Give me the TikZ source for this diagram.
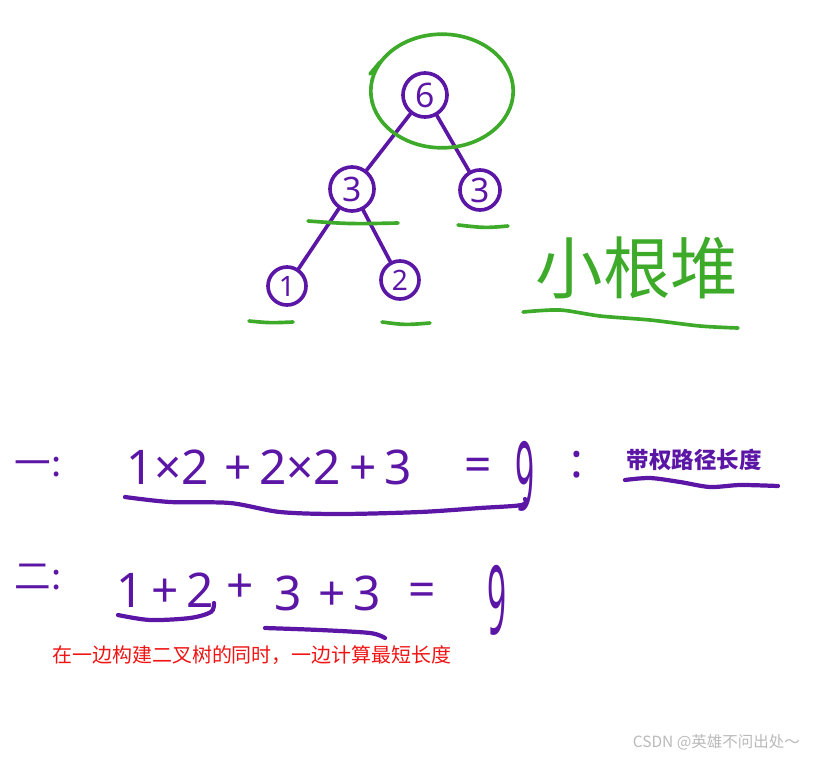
\documentclass[tikz,border=0pt]{standalone}
\usepackage{fontspec}
\setmainfont{Noto Sans}
\newfontfamily\cjkfont{Noto Sans CJK SC}
\usetikzlibrary{positioning}
\definecolor{PenPurple}{RGB}{92, 22, 166}
\definecolor{PenGreen}{RGB}{62, 170, 42}
\definecolor{NoteRed}{RGB}{240, 20, 20}
\definecolor{MarkGray}{RGB}{185, 185, 185}

\begin{document}
\begin{tikzpicture}[x=0.025cm, y=-0.025cm,
      heap/.style={circle, draw=PenPurple, line width=2.6pt, text=PenPurple, inner sep=0pt,
      minimum size=1.1cm, font=\fontsize{24}{24}\selectfont},
      leafheap/.style={heap, minimum size=0.95cm, font=\fontsize{20}{20}\selectfont},
      edge/.style={draw=PenPurple, line width=2.6pt, line cap=round},
      greenmark/.style={draw=PenGreen, line width=2.6pt, line cap=round},
      purplemark/.style={draw=PenPurple, line width=3pt, line cap=round},
      hand/.style={text=PenPurple, inner sep=0pt, font=\fontsize{34}{34}\selectfont},
      cjkhand/.style={text=PenPurple, inner sep=0pt, font=\cjkfont\fontsize{26}{26}\selectfont}
    ]
      \useasboundingbox (0,0) rectangle (813,757);

      % tree
      \node[heap] (root) at (425,95) {6};
      \node[heap] (left) at (352,189) {3};
      \node[heap, minimum size=1.0cm] (right) at (480,190) {3};
      \node[leafheap] (l1) at (287,286) {1};
      \node[leafheap] (l2) at (400,280) {2};

      \draw[edge] (root) -- (left);
      \draw[edge] (root) -- (right);
      \draw[edge] (left) -- (l1);
      \draw[edge] (left) -- (l2);

      % green marks
      \draw[greenmark] (442,91) ellipse [x radius=1.78cm, y radius=1.42cm];
      \draw[greenmark] (370,74) -- (380,62);
      \draw[greenmark] (308,221) .. controls (350,224) .. (398,223);
      \draw[greenmark] (458,225) .. controls (485,228) .. (508,226);
      \draw[greenmark] (249,321) .. controls (270,323) .. (293,322);
      \draw[greenmark] (382,322) .. controls (405,325) .. (430,323);
      \node[text=PenGreen, inner sep=0pt, font=\cjkfont\fontsize{48}{48}\selectfont] (minheap) at (637,268) {小根堆};
      \draw[greenmark] plot[smooth] coordinates {(523,312) (560,310) (600,316) (650,320) (700,326) (738,328)};

      % first sum
      \node[cjkhand] (one) at (38,467) {一:};
      \node[hand] (a1) at (168,467) {1×2};
      \node[hand] (a2) at (318,467) {+\,2×2\,+\,3};
      \node[hand] (a3) at (478,470) {=};
      \node[hand] (a4) at (525,476) {\scalebox{0.7}[2]{9}};
      \node[hand] (a5) at (577,465) {:};
      \node[text=PenPurple, inner sep=0pt, font=\cjkfont\bfseries\fontsize{16}{16}\selectfont] (wpl) at (694,460) {带权路径长度};
      \draw[purplemark] plot[smooth] coordinates {(125,497) (170,502) (230,503) (280,512) (340,514) (420,512) (480,508) (522,505) (525,499)};
      \draw[purplemark] plot[smooth] coordinates {(625,480) (650,478) (680,482) (710,487) (740,485) (778,486)};

      % second sum
      \node[cjkhand] (two) at (38,577) {二:};
      \node[hand] (b1) at (165,590) {1\,+\,2};
      \node[hand] (b2) at (240,588) {+};
      \node[hand] (b3) at (288,593) {3};
      \node[hand] (b4) at (350,593) {+\,3};
      \node[hand] (b5) at (422,595) {=};
      \node[hand] (b6) at (497,600) {\scalebox{0.7}[2]{9}};
      \draw[purplemark] plot[smooth] coordinates {(118,615) (150,620) (190,618) (211,612) (214,603)};
      \draw[purplemark] plot[smooth] coordinates {(265,628) (320,630) (370,633) (385,638)};

      % notes
      \node[text=NoteRed, inner sep=0pt, anchor=west, font=\cjkfont\fontsize{14.2}{14.2}\selectfont] (note) at (52,655) {在一边构建二叉树的同时，一边计算最短长度};
      \node[text=MarkGray, inner sep=0pt, anchor=east, font=\cjkfont\fontsize{11}{11}\selectfont] (mark) at (800,742) {CSDN @英雄不问出处～};
    \end{tikzpicture}
\end{document}
